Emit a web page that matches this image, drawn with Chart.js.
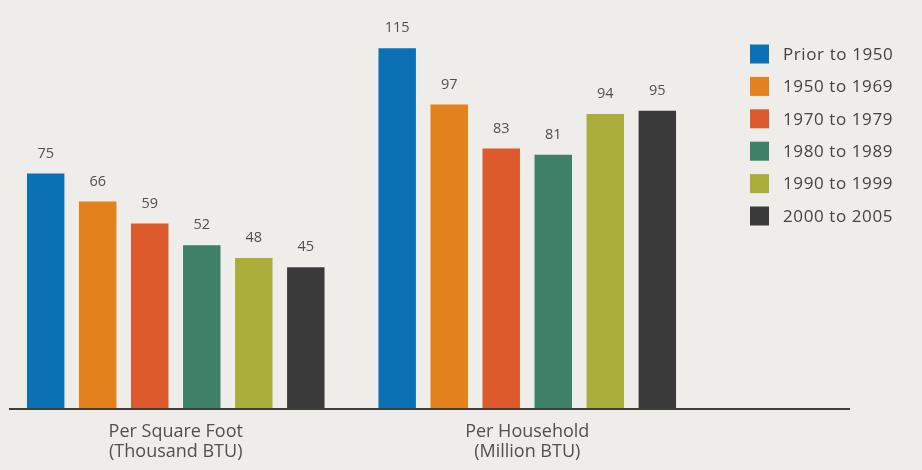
<!DOCTYPE html>
<html>
<head>
<meta charset="utf-8">
<title>Energy use by year built</title>
<script src="https://cdn.jsdelivr.net/npm/chart.js@4.4.1/dist/chart.umd.min.js"></script>
<style>
  html, body { margin: 0; padding: 0; background: #efede9; }
  #wrap { position: relative; width: 922px; height: 470px; }
</style>
</head>
<body>
<div id="wrap"><canvas id="chart"></canvas></div>
<script>
// categories (x axis, multi-line labels)
const categories = [
    ['Per Square Foot', '(Thousand BTU)'],
    ['Per Household', '(Million BTU)'],
];

// series: year the home was built
const seriesNames  = ['Prior to 1950', '1950 to 1969', '1970 to 1979', '1980 to 1989', '1990 to 1999', '2000 to 2005'];
const seriesColors = ['#0a72b4', '#e3821d', '#dc5a2c', '#3f8166', '#a9ae3a', '#3a3a3b'];

const prior1950 = [75, 115];
const y1950s    = [66, 97];
const y1970s    = [59, 83];
const y1980s    = [52, 81];
const y1990s    = [48, 94];
const y2000s    = [45, 95];

const seriesValues = [prior1950, y1950s, y1970s, y1980s, y1990s, y2000s];

const FONT = "'Open Sans', sans-serif";
const TEXT = '#505050';

/* value printed above each bar */
const valueLabels = {
    id: 'valueLabels',
    afterDatasetsDraw(chart) {
        const ctx = chart.ctx;
        ctx.save();
        ctx.font = '14.5px ' + FONT;
        ctx.fillStyle = TEXT;
        ctx.textAlign = 'center';
        ctx.textBaseline = 'middle';
        chart.data.datasets.forEach((ds, i) => {
            chart.getDatasetMeta(i).data.forEach((bar, j) => {
                ctx.fillText(ds.data[j], bar.x, bar.y - 20);
            });
        });
        ctx.restore();
    },
};

/* long baseline running past the bars */
const baseLine = {
    id: 'baseLine',
    afterDatasetsDraw(chart) {
        const ctx = chart.ctx;
        const y = chart.scales.y.getPixelForValue(0) + 1;
        ctx.save();
        ctx.strokeStyle = '#3d3d3d';
        ctx.lineWidth = 2;
        ctx.beginPath();
        ctx.moveTo(9, y);
        ctx.lineTo(850, y);
        ctx.stroke();
        ctx.restore();
    },
};

/* legend list on the right */
const sideLegend = {
    id: 'sideLegend',
    afterDraw(chart) {
        const ctx = chart.ctx;
        ctx.save();
        ctx.font = '17px ' + FONT;
        ctx.letterSpacing = '0.6px';
        ctx.textAlign = 'left';
        ctx.textBaseline = 'middle';
        chart.data.datasets.forEach((ds, i) => {
            const cy = 54 + i * 32.4;
            ctx.fillStyle = ds.backgroundColor;
            ctx.fillRect(750, cy - 9.5, 19, 19);
            ctx.fillStyle = '#444444';
            ctx.fillText(ds.label, 783, cy + 1);
        });
        ctx.restore();
    },
};

const datasets = seriesNames.map((name, i) => ({
    label: name,
    data: seriesValues[i],
    backgroundColor: seriesColors[i],
    borderWidth: 0,
    categoryPercentage: 0.888,
    barPercentage: 0.72,
}));

new Chart(document.getElementById('chart'), {
    type: 'bar',
    data: { labels: categories, datasets },
    options: {
        responsive: true,
        maintainAspectRatio: false,
        animation: false,
        layout: { padding: { left: 0, right: 219, top: 17, bottom: -6 } },
        plugins: {
            legend: { display: false },
            tooltip: { enabled: false },
        },
        scales: {
            x: {
                grid: { display: false, drawTicks: false },
                border: { display: false },
                ticks: {
                    color: TEXT,
                    padding: 14,
                    font: { family: FONT, size: 18, lineHeight: 1.11 },
                },
            },
            y: {
                display: false,
                min: 0,
                max: 125,
            },
        },
    },
    plugins: [valueLabels, baseLine, sideLegend],
});
</script>
</body>
</html>
